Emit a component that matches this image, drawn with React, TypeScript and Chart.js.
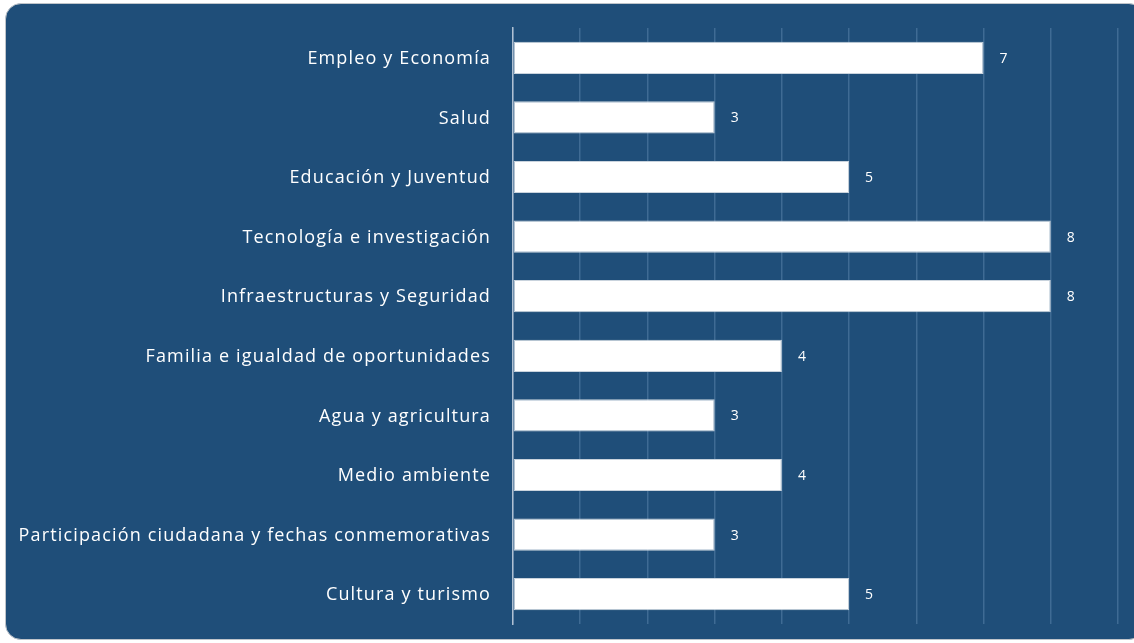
import React, { useEffect, useRef } from "react";
import { Chart, registerables } from "chart.js";

Chart.register(...registerables);

const categories = [
  "Empleo y Economía",
  "Salud",
  "Educación y Juventud",
  "Tecnología e investigación",
  "Infraestructuras y Seguridad",
  "Familia e igualdad de oportunidades",
  "Agua y agricultura",
  "Medio ambiente",
  "Participación ciudadana y fechas conmemorativas",
  "Cultura y turismo",
];
const values = [7, 3, 5, 8, 8, 4, 3, 4, 3, 5];
const axisMax = 9;

const labelPlugin = {
  id: "labelPlugin",
  afterDatasetsDraw(chart: any) {
    const ctx = chart.ctx;
    const meta = chart.getDatasetMeta(0);
    const yScale = chart.scales.y;
    ctx.save();
    ctx.fillStyle = "#FFFFFF";
    ctx.textBaseline = "middle";
    ctx.font = "18px 'Open Sans', sans-serif";
    (ctx as any).letterSpacing = "1.15px";
    ctx.textAlign = "right";
    categories.forEach((c, i) => {
      const y = yScale.getPixelForValue(i);
      ctx.fillText(c, chart.chartArea.left - 22, y + 1);
    });
    (ctx as any).letterSpacing = "0px";
    ctx.font = "14px 'Open Sans', sans-serif";
    ctx.textAlign = "left";
    meta.data.forEach((bar: any, i: number) => {
      ctx.fillText(String(values[i]), bar.x + 16, bar.y + 1);
    });
    ctx.restore();
  },
};

export default function App() {
  const ref = useRef<HTMLCanvasElement>(null);
  useEffect(() => {
    if (!ref.current) return;
    const chart = new Chart(ref.current, {
      type: "bar",
      data: {
        labels: categories,
        datasets: [
          {
            data: values,
            backgroundColor: "#FFFFFF",
            borderColor: "#C9D3DD",
            borderWidth: 1,
            borderSkipped: false,
            categoryPercentage: 1,
            barPercentage: 0.54,
          },
        ],
      },
      options: {
        indexAxis: "y",
        animation: false,
        responsive: false,
        maintainAspectRatio: false,
        layout: { padding: { left: 0, right: 16, top: 28, bottom: 19 } },
        plugins: { legend: { display: false }, tooltip: { enabled: false } },
        scales: {
          x: {
            min: 0,
            max: axisMax,
            ticks: { display: false, stepSize: 1 },
            grid: { color: "#3F6B94", lineWidth: 1.5, drawTicks: false },
            border: { display: false },
            afterFit: (s: any) => {
              s.height = 0;
              s.paddingLeft = 0;
              s.paddingRight = 0;
            },
          },
          y: {
            ticks: { display: false },
            grid: { display: false, drawTicks: false },
            border: { display: true, color: "#AFC0D2", width: 1.5 },
            afterFit: (s: any) => {
              s.width = 513;
              s.paddingTop = 0;
              s.paddingBottom = 0;
            },
          },
        },
      },
      plugins: [labelPlugin],
    });
    return () => chart.destroy();
  }, []);

  return (
    <div
      style={{
        position: "fixed",
        left: 0,
        top: 0,
        width: 1134,
        height: 643,
        background: "#FFFFFF",
        overflow: "hidden",
      }}
    >
      <div
        style={{
          position: "absolute",
          left: 5,
          top: 3,
          width: 1140,
          height: 637,
          background: "#1F4E79",
          border: "1.5px solid #BFC4CA",
          borderRadius: 16,
          boxSizing: "border-box",
        }}
      />
      <canvas
        ref={ref}
        width={1134}
        height={643}
        style={{ position: "absolute", left: 0, top: 0, width: 1134, height: 643 }}
      />
    </div>
  );
}
